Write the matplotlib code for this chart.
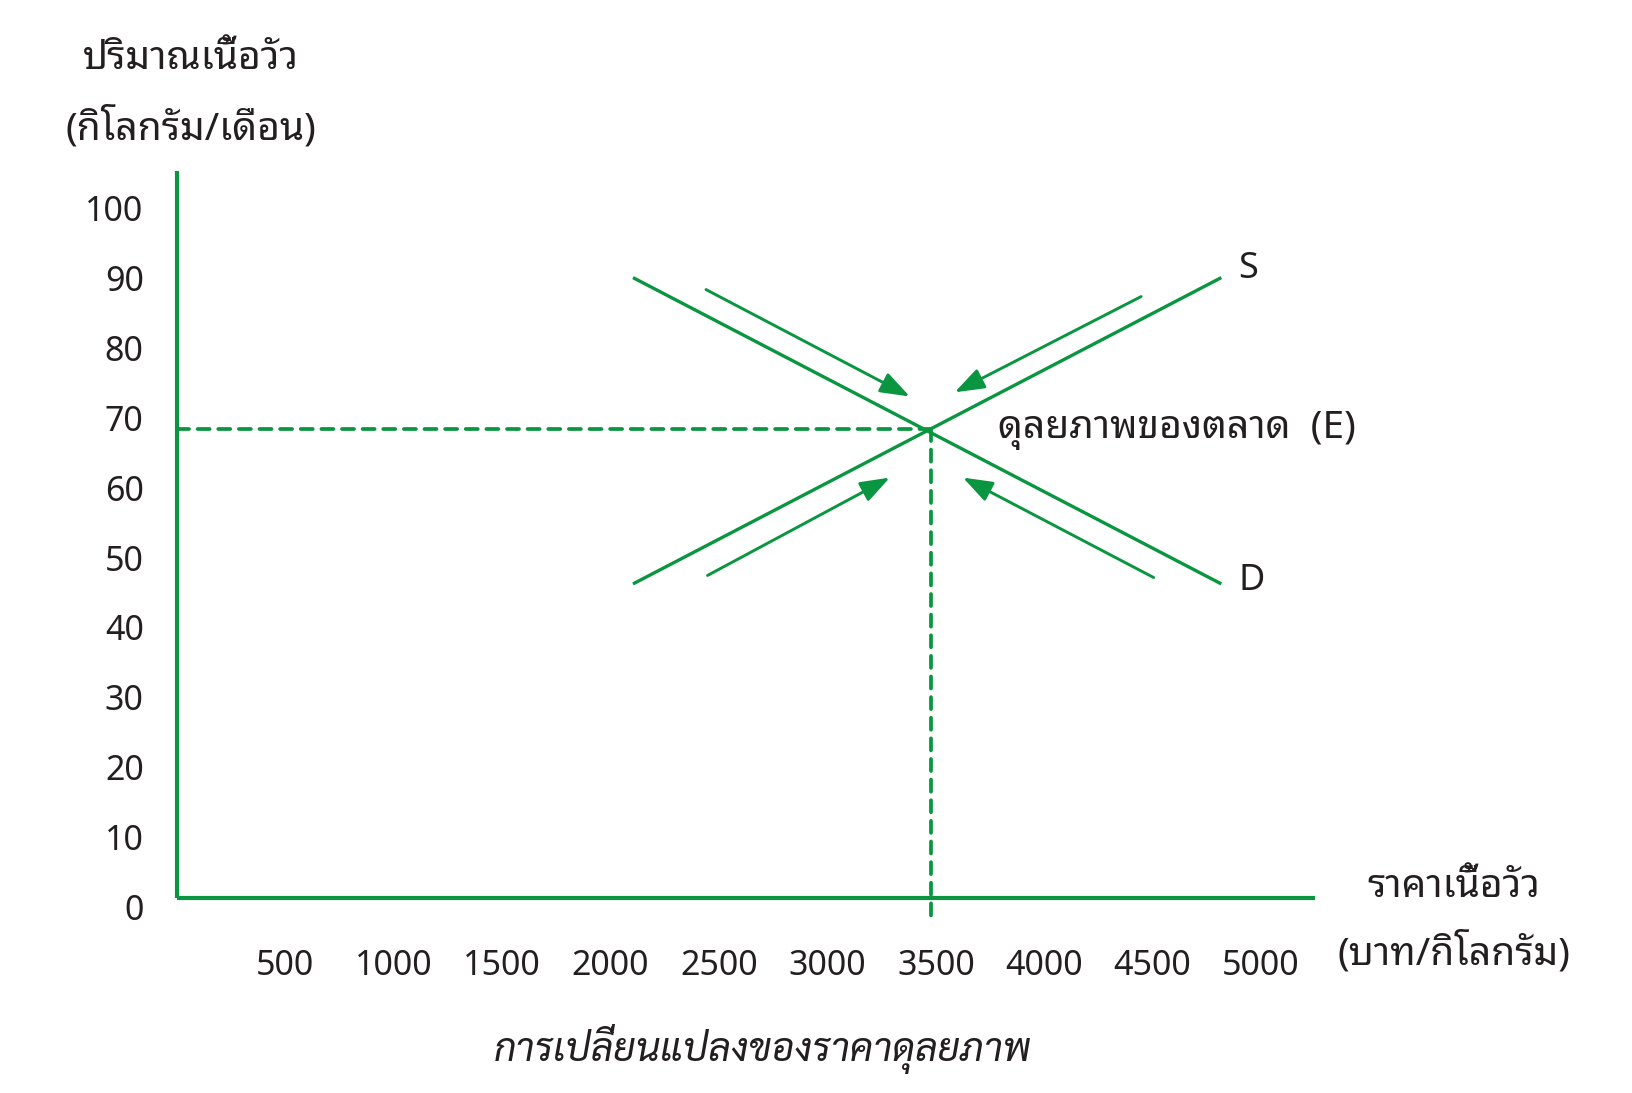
"""
Market equilibrium of beef: demand and supply lines meeting at E.
"""

import matplotlib
matplotlib.use("Agg")
import matplotlib.pyplot as plt
from matplotlib.transforms import ScaledTranslation

# data
price_ticks = [500, 1000, 1500, 2000, 2500, 3000, 3500, 4000, 4500, 5000]
qty_ticks = [0, 10, 20, 30, 40, 50, 60, 70, 80, 90, 100]

demand_x = [2110, 4810]
demand_y = [88.6, 45.0]
supply_x = [2110, 4810]
supply_y = [45.0, 88.6]

eq_price = 3480
eq_qty = 67

# arrows pointing toward the equilibrium: (start, end)
arrows = [
    ((2440, 87.0), (3380, 71.7)),
    ((4447, 86.0), (3587, 72.3)),
    ((2447, 46.1), (3288, 60.1)),
    ((4505, 45.8), (3625, 60.1)),
]

y_title = "ปริมาณเนื้อวัว\n(กิโลกรัม/เดือน)"
x_title = "ราคาเนื้อวัว\n(บาท/กิโลกรัม)"
eq_label = "ดุลยภาพของตลาด  (E)"
bottom_title = "การเปลี่ยนแปลงของราคาดุลยภาพ"

GREEN = "#0a9540"
INK = "#231f20"
THAI = ["Noto Sans Thai Looped", "Noto Sans", "DejaVu Sans"]
NUM = ["Noto Sans", "DejaVu Sans"]

fig = plt.figure(figsize=(16.33, 10.93), dpi=100)
ax = fig.add_axes([0.1084, 0.1595, 0.6970, 0.6843])
ax.set_xlim(0, 5250)
ax.set_ylim(-3, 104)
for s in ax.spines.values():
    s.set_visible(False)

# axis lines
ax.plot([0, 0], [0, 103.9], color=GREEN, lw=3.0, solid_capstyle="butt", clip_on=False)
ax.plot([0, 5250], [0, 0], color=GREEN, lw=3.0, solid_capstyle="butt", clip_on=False)

# demand and supply
ax.plot(demand_x, demand_y, color=GREEN, lw=2.4)
ax.plot(supply_x, supply_y, color=GREEN, lw=2.4)

# dashed guides to equilibrium
ax.plot([0, eq_price], [eq_qty, eq_qty], color=GREEN, lw=2.7,
        dashes=(3.2, 2.3), dash_capstyle="round")
ax.plot([eq_price, eq_price], [eq_qty, -2.7], color=GREEN, lw=2.7,
        dashes=(3.2, 2.3), dash_capstyle="round")

for start, end in arrows:
    ax.annotate("", xy=end, xytext=start,
                arrowprops=dict(arrowstyle="-|>,head_length=1.2,head_width=0.43",
                                mutation_scale=15, color=GREEN, lw=2.1,
                                shrinkA=0, shrinkB=0))

ax.text(4894, 90.0, "S", fontsize=26, family=NUM, color=INK, ha="left", va="center")
ax.text(4894, 45.3, "D", fontsize=26, family=NUM, color=INK, ha="left", va="center")
ax.text(3789, 66.8, eq_label, fontsize=28, family=THAI, color=INK,
        ha="left", va="center")

# ticks
ax.set_xticks(price_ticks)
ax.set_xticklabels([str(v) for v in price_ticks], fontsize=24.5, family=NUM, color=INK)
ax.set_yticks(qty_ticks)
ax.set_yticklabels([str(v) for v in qty_ticks], fontsize=24.5, family=NUM, color=INK)
ax.tick_params(axis="x", length=0, pad=21.5)
ax.tick_params(axis="y", length=0, pad=24)
shift = ScaledTranslation(0, -9.4 / 100, fig.dpi_scale_trans)
for lab in ax.get_yticklabels():
    lab.set_transform(lab.get_transform() + shift)

# titles
fig.text(190.6 / 1633, 1 - 94 / 1093, y_title, fontsize=28, family=THAI,
         color=INK, ha="center", va="center", linespacing=1.85)
fig.text(1454 / 1633, 1 - 921 / 1093, x_title, fontsize=28, family=THAI,
         color=INK, ha="center", va="center", linespacing=1.76)
fig.text(763 / 1633, 1 - 1049 / 1093, bottom_title, fontsize=28, style="italic",
         family=["Sarabun", "Noto Sans Thai Looped", "DejaVu Sans"],
         color=INK, ha="center", va="center")

fig.savefig("out.png", dpi=100)
